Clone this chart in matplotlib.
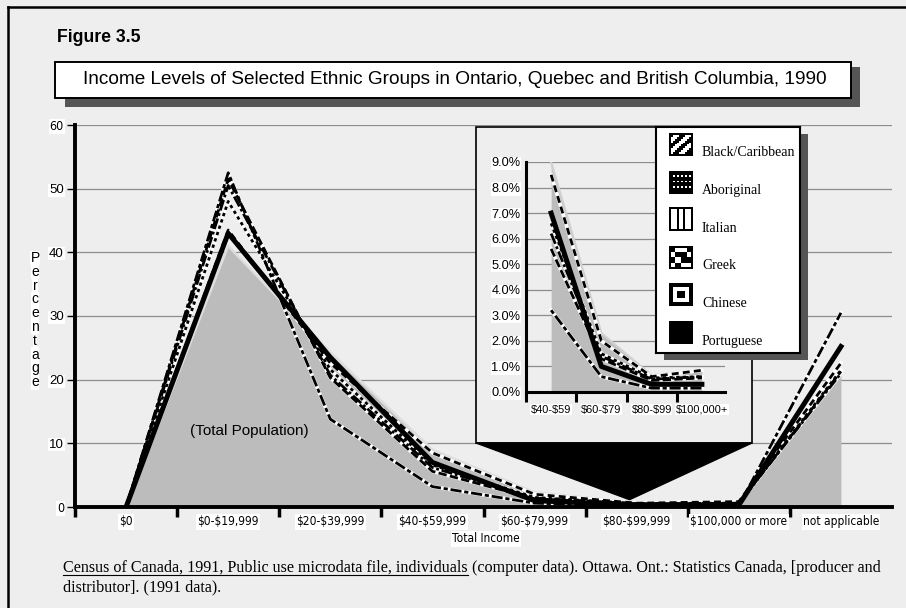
import matplotlib.pyplot as plt
from matplotlib import font_manager
from matplotlib.patches import Rectangle, Polygon
from matplotlib.lines import Line2D
import numpy as np

plt.rcParams['font.family'] = ['Liberation Sans', 'DejaVu Sans']
SERIF = ['Liberation Serif', 'DejaVu Serif']
BG = '#eeeeee'
W, H = 906, 608

# condensed face for axis labels, if one is installed
fonts = {(f.name, f.stretch) for f in font_manager.fontManager.ttflist}
if any(n == 'Liberation Sans Narrow' for n, s in fonts):
    NARROW = dict(fontfamily='Liberation Sans Narrow', fontsize=9.5)
elif ('DejaVu Sans', 'condensed') in fonts:
    NARROW = dict(fontfamily='DejaVu Sans', fontstretch='condensed', fontsize=8.6)
else:
    NARROW = dict(fontfamily='Liberation Sans', fontsize=8.4)

# data
categories = ['$0', '$0-$19,999', '$20-$39,999', '$40-$59,999', '$60-$79,999',
              '$80-$99,999', '$100,000 or more', 'not applicable']
inset_categories = ['$40-$59', '$60-$79', '$80-$99', '$100,000+']
total_pop = [0, 41.0, 24.3, 9.0, 2.3, 0.65, 0.85, 20.7]
black_caribbean = [0, 51.5, 20.3, 5.6, 1.3, 0.45, 0.55, 21.3]
aboriginal = [0, 52.5, 13.8, 3.2, 0.6, 0.15, 0.15, 30.5]
italian = [0, 43.5, 22.6, 8.5, 2.0, 0.6, 0.85, 22.6]
greek = [0, 50.5, 20.7, 6.2, 1.4, 0.5, 0.6, 21.0]
chinese = [0, 48.0, 21.6, 6.6, 1.5, 0.55, 0.6, 21.5]
portuguese = [0, 43.0, 23.5, 7.0, 1.0, 0.3, 0.3, 25.2]
inset_slice = slice(3, 7)
legend_names = ['Black/Caribbean', 'Aboriginal', 'Italian', 'Greek', 'Chinese', 'Portuguese']

dashed = [(black_caribbean, (3, 1.2)), (aboriginal, (1.5, 1, 4, 1)),
          (italian, (2.5, 1.5)), (greek, (4, 1, 1, 1)), (chinese, (1.2, 1.2))]


def box(x0, y0, x1, y1):
    # pixel box (top-left origin) -> figure fraction rect
    return [x0 / W, 1 - y1 / H, (x1 - x0) / W, (y1 - y0) / H]


def frect(x0, y0, x1, y1, **kw):
    r = box(x0, y0, x1, y1)
    return Rectangle((r[0], r[1]), r[2], r[3], transform=fig.transFigure, **kw)


def esc(s):
    return s.replace('$', r'\$')


fig = plt.figure(figsize=(W / 100, H / 100), dpi=100)
fig.patch.set_facecolor(BG)

# page frame (top and left only)
fig.add_artist(Line2D([8 / W, 8 / W], [0, 1 - 7 / H], color='black', lw=1.8, transform=fig.transFigure))
fig.add_artist(Line2D([8 / W, 1], [1 - 7 / H, 1 - 7 / H], color='black', lw=1.8, transform=fig.transFigure))

fig.text(57 / W, 1 - 37 / H, 'Figure 3.5', fontsize=12.7, fontweight='bold', va='center', ha='left')

# title box with shadow
fig.add_artist(frect(65, 67, 860, 107, facecolor='#555555', edgecolor='none', zorder=1))
fig.add_artist(frect(55, 62, 851, 98, facecolor='white', edgecolor='black', lw=1.4, zorder=1.1))
fig.text(455 / W, 1 - 80 / H,
         'Income Levels of Selected Ethnic Groups in Ontario, Quebec and British Columbia, 1990',
         fontsize=13.65, ha='center', va='center', zorder=2)

# main chart
x = np.arange(len(categories))
ax = fig.add_axes(box(75, 125, 892, 507), facecolor='none', zorder=0)
ax.set_xlim(-0.5, 7.5)
ax.set_ylim(0, 60)
ax.yaxis.grid(True, color='#8c8c8c', lw=0.9)
ax.set_axisbelow(True)
for s in ['top', 'right']:
    ax.spines[s].set_visible(False)
for s in ['left', 'bottom']:
    ax.spines[s].set_linewidth(2.8)

ax.fill_between(x, total_pop, color='#bcbcbc', lw=0, zorder=1)
ax.plot(x, total_pop, color='#dedede', lw=1.8, zorder=1.5)
for vals, d in dashed:
    ax.plot(x, vals, color='white', lw=2.6, zorder=2)
    ax.plot(x, vals, color='black', lw=2.0, dashes=d, zorder=2.1)
ax.plot(x, portuguese, color='black', lw=3.6, zorder=3)
ax.text(1.21, 12, '(Total Population)', fontsize=11, ha='center', va='center', zorder=4)

ax.set_xticks(np.arange(-0.5, 7, 1))
ax.set_xticklabels([])
ax.tick_params(axis='x', which='major', direction='out', length=7, width=2.5)
ax.set_xticks(x, minor=True)
ax.set_xticklabels([esc(c) for c in categories], minor=True,
                   bbox=dict(facecolor='white', edgecolor='none', pad=1), **NARROW)
ax.tick_params(axis='x', which='minor', length=0, pad=6)

ax.set_yticks(range(0, 61, 10))
ax.set_yticklabels([str(v) for v in range(0, 61, 10)], fontsize=9.5,
                   bbox=dict(facecolor='white', edgecolor='none', pad=0.5))
ax.tick_params(axis='y', direction='out', length=6, width=1, pad=2)
ylabs = ax.get_yticklabels()
for i in (0, len(ylabs) - 1):
    ylabs[i].set_fontfamily(NARROW['fontfamily'])
    ylabs[i].set_fontstretch(NARROW.get('fontstretch', 'normal'))
    ylabs[i].set_fontsize(9)

fig.text(486 / W, 1 - 539 / H, 'Total Income', ha='center', va='center',
         bbox=dict(facecolor='white', edgecolor='none', pad=1), **NARROW)
for k, ch in enumerate('Percentage'):
    fig.text(35 / W, 1 - (258 + 13.8 * k) / H, ch, fontsize=10, ha='center', va='center',
             bbox=dict(facecolor='white', edgecolor='none', pad=0.3))

# inset box and pointer
fig.add_artist(frect(476, 127, 752, 443, facecolor=BG, edgecolor='black', lw=1.2, zorder=1))
fig.canvas.draw()
apex = fig.transFigure.inverted().transform(ax.transData.transform((4.93, total_pop[5] + 0.5)))
fig.add_artist(Polygon([(476 / W, 1 - 443 / H), (752 / W, 1 - 443 / H), tuple(apex)],
                       closed=True, facecolor='black', edgecolor='black', transform=fig.transFigure, zorder=1))

ix = np.arange(len(inset_categories))
iax = fig.add_axes(box(526, 162, 725, 392), facecolor='none', zorder=2)
iax.set_xlim(-0.5, 3.46)
iax.set_ylim(0, 9)
iax.yaxis.grid(True, color='#8c8c8c', lw=0.9)
iax.set_axisbelow(True)
for s in ['top', 'right']:
    iax.spines[s].set_visible(False)
for s in ['left', 'bottom']:
    iax.spines[s].set_linewidth(2.2)
iax.fill_between(ix, total_pop[inset_slice], color='#bcbcbc', lw=0, zorder=1)
iax.plot(ix, total_pop[inset_slice], color='#d0d0d0', lw=1.6, zorder=1.5)
for vals, d in dashed:
    iax.plot(ix, vals[inset_slice], color='white', lw=2.6, zorder=2)
    iax.plot(ix, vals[inset_slice], color='black', lw=2.0, dashes=d, zorder=2.1)
iax.plot(ix, portuguese[inset_slice], color='black', lw=3.6, zorder=3)

iax.set_xticks(np.arange(-0.5, 3, 1))
iax.set_xticklabels([])
iax.tick_params(axis='x', which='major', direction='out', length=7, width=2.2)
iax.set_xticks(ix, minor=True)
iax.set_xticklabels([esc(c) for c in inset_categories], minor=True, fontsize=7.9,
                    bbox=dict(facecolor='white', edgecolor='none', pad=0.5))
iax.tick_params(axis='x', which='minor', length=0, pad=9)
iax.set_yticks(range(0, 10))
iax.set_yticklabels(['%.1f%%' % v for v in range(0, 10)], fontsize=9.2,
                    bbox=dict(facecolor='white', edgecolor='none', pad=0.5))
iax.tick_params(axis='y', length=0, pad=4)

# legend box
fig.add_artist(frect(664, 134, 808, 360, facecolor='#555555', edgecolor='none', zorder=3))
lax = fig.add_axes(box(656, 127, 800, 353), facecolor='white', zorder=4)
lax.set_xticks([])
lax.set_yticks([])
for s in lax.spines.values():
    s.set_linewidth(1.5)


def framed(a):
    a[0, :] = a[-1, :] = a[:, 0] = a[:, -1] = 0
    return a


n = 12
ii, jj = np.indices((n, n))
stripes = framed(((ii + jj) // 3 % 2).astype(float))
dots = np.zeros((n, n))
dots[2:11:3, 2:11:2] = 1
bars = np.ones((n, n))
bars[:, [4, 7]] = 0
bars = framed(bars)
blocks = framed(np.kron(np.array([[0, 1, 1, 0], [1, 0, 0, 1], [0, 1, 0, 0], [1, 0, 1, 1]], float),
                        np.ones((3, 3))))
target = np.ones((n, n))
target[4:8, 4:8] = 0
target = framed(target)
target[1, :] = target[-2, :] = target[:, 1] = target[:, -2] = 0
solid = np.zeros((n, n))
patterns = [stripes, dots, bars, blocks, target, solid]

for k, (name, pat) in enumerate(zip(legend_names, patterns)):
    top = 6 + 37.6 * k
    lax.imshow(pat, cmap='gray', vmin=0, vmax=1, interpolation='nearest',
               extent=(13, 37, top + 23, top), aspect='auto')
    lax.text(46, top + 20, name, fontfamily=SERIF, fontsize=10, ha='left', va='center')
lax.set_xlim(0, 144)
lax.set_ylim(226, 0)

# source note
renderer = fig.canvas.get_renderer()
t1 = fig.text(63 / W, 1 - 572 / H, 'Census of Canada, 1991, Public use microdata file, individuals',
              fontfamily=SERIF, fontsize=11.6, va='baseline', ha='left')
bb = t1.get_window_extent(renderer)
fig.add_artist(Line2D([bb.x0 / W, bb.x1 / W], [(bb.y0 + 1.5) / H, (bb.y0 + 1.5) / H],
                      color='black', lw=0.8, transform=fig.transFigure))
fig.text((bb.x1 + 4) / W, 1 - 572 / H,
         '(computer data). Ottawa. Ont.: Statistics Canada, [producer and',
         fontfamily=SERIF, fontsize=11.6, va='baseline', ha='left')
fig.text(63 / W, 1 - 591 / H, 'distributor]. (1991 data).',
         fontfamily=SERIF, fontsize=11.6, va='baseline', ha='left')

fig.savefig('out.png', dpi=100, facecolor=BG)
